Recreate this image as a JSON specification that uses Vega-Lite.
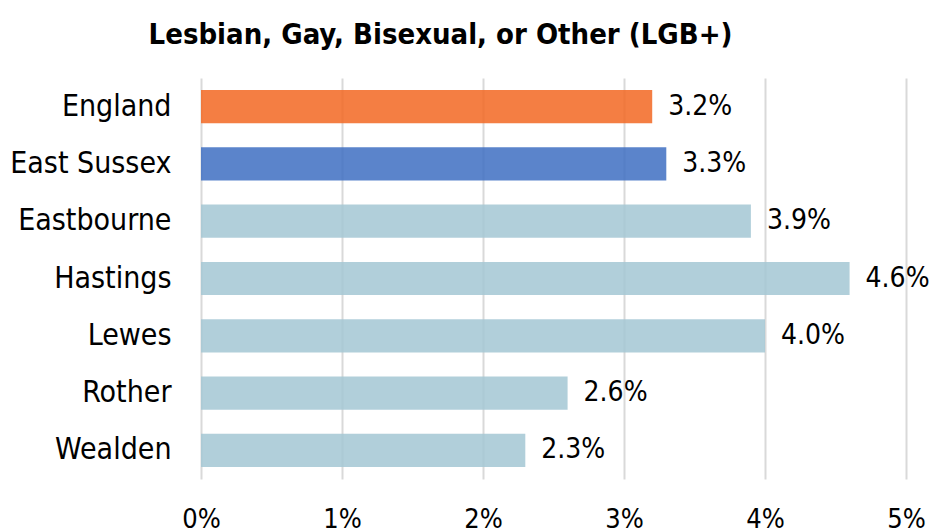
{
  "$schema": "https://vega.github.io/schema/vega-lite/v6.json",
  "width": 705,
  "height": 401,
  "autosize": {"type": "none"},
  "padding": {"left": 201, "top": 78, "right": 26, "bottom": 53},
  "background": "white",
  "config": {
    "view": {"stroke": null},
    "font": "DejaVu Sans Condensed"
  },
  "title": {
    "text": "Lesbian, Gay, Bisexual, or Other (LGB+)",
    "font": "DejaVu Sans Condensed",
    "fontSize": 29,
    "fontWeight": "bold",
    "color": "#000000",
    "anchor": "middle",
    "dx": -113,
    "offset": 28
  },
  "data": {
    "values": [
      {"area": "England", "value": 3.2, "label": "3.2%", "group": "England"},
      {"area": "East Sussex", "value": 3.3, "label": "3.3%", "group": "East Sussex"},
      {"area": "Eastbourne", "value": 3.9, "label": "3.9%", "group": "District"},
      {"area": "Hastings", "value": 4.6, "label": "4.6%", "group": "District"},
      {"area": "Lewes", "value": 4.0, "label": "4.0%", "group": "District"},
      {"area": "Rother", "value": 2.6, "label": "2.6%", "group": "District"},
      {"area": "Wealden", "value": 2.3, "label": "2.3%", "group": "District"}
    ]
  },
  "encoding": {
    "y": {
      "field": "area",
      "type": "nominal",
      "sort": null,
      "scale": {"paddingInner": 0.42, "paddingOuter": 0.21},
      "axis": {
        "title": null,
        "domain": false,
        "ticks": false,
        "labelFontSize": 30,
        "labelColor": "#000000",
        "labelPadding": 30,
        "labelFont": "DejaVu Sans Condensed"
      }
    },
    "x": {
      "field": "value",
      "type": "quantitative",
      "scale": {"domain": [0, 5], "nice": false},
      "axis": {
        "title": null,
        "values": [0, 1, 2, 3, 4, 5],
        "labelExpr": "datum.value + '%'",
        "labelFlush": false,
        "domain": false,
        "ticks": false,
        "grid": true,
        "gridColor": "#d9d9d9",
        "gridWidth": 2,
        "labelFontSize": 27,
        "labelColor": "#000000",
        "labelPadding": 27,
        "labelFont": "DejaVu Sans Condensed"
      }
    }
  },
  "layer": [
    {
      "mark": {"type": "bar", "opacity": 0.85},
      "encoding": {
        "color": {
          "field": "group",
          "type": "nominal",
          "scale": {
            "domain": ["England", "East Sussex", "District"],
            "range": ["#F26722", "#3E6EC2", "#A3C7D4"]
          },
          "legend": null
        }
      }
    },
    {
      "mark": {"type": "text", "align": "left", "baseline": "middle", "dx": 16, "fontSize": 28, "color": "#000000", "font": "DejaVu Sans Condensed"},
      "encoding": {
        "text": {"field": "label"}
      }
    }
  ]
}
